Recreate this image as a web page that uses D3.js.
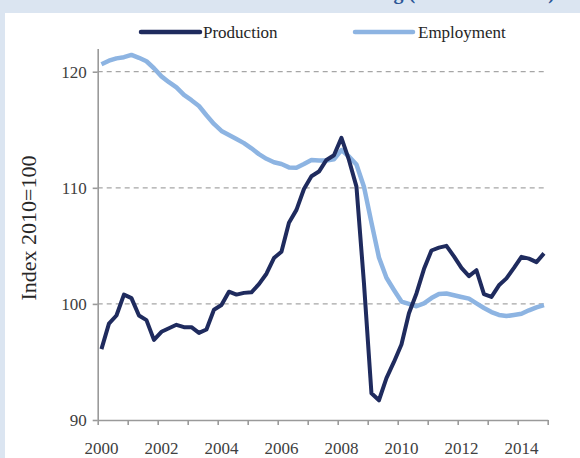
<!DOCTYPE html>
<html><head><meta charset="utf-8">
<script src="https://cdn.jsdelivr.net/npm/d3@7/dist/d3.min.js"></script>
<style>
html,body{margin:0;padding:0;background:#dbe5f1;}
svg{display:block;}
svg text{font-family:"Liberation Serif","Times New Roman","DejaVu Serif",serif !important;}
</style></head>
<body>
<svg id="chart" width="580" height="458"></svg>
<script>
// Quarterly data, 2000Q1 .. 2014Q4
const startYear = 2000;
const production = [
  96.1, 98.3, 99.0, 100.8, 100.5, 99.0, 98.6, 96.9,
  97.6, 97.9, 98.2, 98.0, 98.0, 97.5, 97.8, 99.5,
  99.9, 101.05, 100.8, 100.95, 101.0, 101.7, 102.6, 103.95,
  104.5, 107.0, 108.1, 109.9, 111.0, 111.4, 112.4, 112.8,
  114.3, 112.4, 110.1, 101.8, 92.3, 91.7, 93.6, 95.0,
  96.5, 99.2, 100.9, 103.0, 104.6, 104.85, 105.0, 104.1,
  103.1, 102.4, 102.9, 100.85, 100.6, 101.6, 102.2, 103.1,
  104.05, 103.9, 103.6, 104.35
];
const employment = [
  120.65, 120.95, 121.15, 121.25, 121.45, 121.2, 120.9, 120.3,
  119.6, 119.1, 118.65, 118.0, 117.55, 117.05, 116.25, 115.5,
  114.9, 114.55, 114.2, 113.85, 113.4, 112.9, 112.5, 112.2,
  112.05, 111.76, 111.73, 112.05, 112.4, 112.35, 112.35, 112.45,
  113.25, 112.7, 112.0, 110.1, 107.0, 104.0, 102.25, 101.2,
  100.2, 100.0, 99.8, 100.05, 100.5, 100.85, 100.9, 100.75,
  100.6, 100.45, 100.05, 99.65, 99.3, 99.05, 98.95, 99.05,
  99.15, 99.45, 99.7, 99.9
];
const yTicks = [90, 100, 110, 120];
const gridValues = [100, 110, 120];
const yearTicks = d3.range(2000, 2016);
const yearLabels = [2000, 2002, 2004, 2006, 2008, 2010, 2012, 2014];
const seriesNames = ["Production", "Employment"];
const colors = {Production: "#1f2b5e", Employment: "#8db4e2"};
const titleText = "Manufacturing (index 2010=100)";
const yTitle = "Index 2010=100";

const svg = d3.select("#chart");
// white panel
svg.append("rect").attr("x", 5).attr("y", 13).attr("width", 575).attr("height", 445).attr("fill", "#ffffff");
// title in the band, mostly above the visible area as in the reference
svg.append("text").attr("x", 555).attr("y", -1.5).attr("text-anchor", "end")
  .attr("font-size", 20).attr("font-weight", "bold").attr("fill", "#2a5696").text(titleText);

const x = d3.scaleLinear().domain([2000, 2015]).range([97.7, 547.7]);
const y = d3.scaleLinear().domain([90, 122]).range([420, 48.5]);

// gridlines
svg.append("g").selectAll("line").data(gridValues).join("line")
  .attr("x1", x(2000)).attr("x2", x(2015))
  .attr("y1", d => y(d)).attr("y2", d => y(d))
  .attr("stroke", "#a6a6a6").attr("stroke-width", 1.3).attr("stroke-dasharray", "5,4");

// y axis
const yAxis = svg.append("g").attr("transform", `translate(${x(2000)},0)`)
  .call(d3.axisLeft(y).tickValues(yTicks).tickSize(5).tickSizeOuter(0).tickPadding(6));
yAxis.attr("font-family", null);
yAxis.select(".domain").attr("stroke", "#9a9a9a").attr("stroke-width", 1.6);
yAxis.selectAll(".tick line").attr("stroke", "#9a9a9a").attr("stroke-width", 1.6);
yAxis.selectAll(".tick text").attr("font-size", 17).attr("fill", "#404040");

// x axis
const xAxis = svg.append("g").attr("transform", `translate(0,${y(90)})`)
  .call(d3.axisBottom(x).tickValues(yearTicks).tickSize(5).tickSizeOuter(0).tickFormat(""));
xAxis.select(".domain").attr("stroke", "#9a9a9a").attr("stroke-width", 1.6);
xAxis.selectAll(".tick line").attr("stroke", "#9a9a9a").attr("stroke-width", 1.6);
svg.append("g").selectAll("text").data(yearLabels).join("text")
  .attr("x", d => x(d + 0.125)).attr("y", 454).attr("text-anchor", "middle")
  .attr("font-size", 17).attr("fill", "#404040").text(d => d);

// y title
svg.append("text").attr("transform", `translate(36,228) rotate(-90)`).attr("text-anchor", "middle")
  .attr("font-size", 22).attr("fill", "#262626").text(yTitle);

// lines
const line = d3.line().x((d, i) => x(startYear + (i + 0.5) / 4)).y(d => y(d)).curve(d3.curveLinear);
svg.append("path").datum(employment).attr("d", line).attr("fill", "none")
  .attr("stroke", colors.Employment).attr("stroke-width", 4.5).attr("stroke-linejoin", "round");
svg.append("path").datum(production).attr("d", line).attr("fill", "none")
  .attr("stroke", colors.Production).attr("stroke-width", 4).attr("stroke-linejoin", "round");

// legend
const legendItems = [
  {name: seriesNames[0], x1: 141, x2: 200, tx: 203},
  {name: seriesNames[1], x1: 355, x2: 413, tx: 418}
];
const lg = svg.append("g");
legendItems.forEach(it => {
  lg.append("line").attr("x1", it.x1).attr("x2", it.x2).attr("y1", 32).attr("y2", 32)
    .attr("stroke", colors[it.name]).attr("stroke-width", 4.5).attr("stroke-linecap", "round");
  lg.append("text").attr("x", it.tx).attr("y", 38).attr("font-size", 17).attr("fill", "#262626").text(it.name);
});
</script>
</body></html>
